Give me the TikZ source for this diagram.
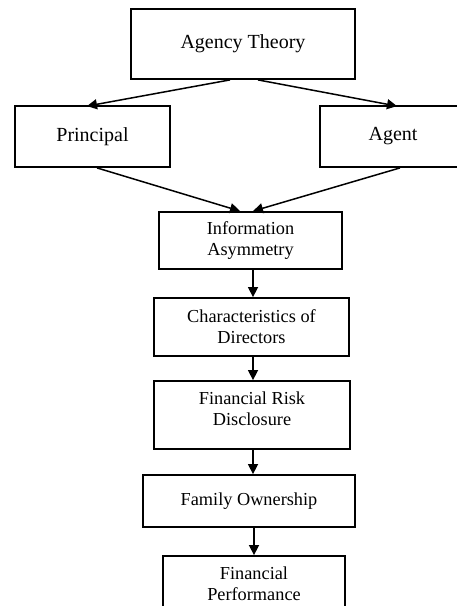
\documentclass[tikz,border=0pt]{standalone}
\usepackage{fontspec}
\setmainfont{Liberation Serif}
\usetikzlibrary{arrows.meta,calc}
\begin{document}
\begin{tikzpicture}[x=1pt,y=-1pt,
  box/.style={draw=black,line width=1.8pt,rectangle,inner sep=0pt,align=center,
    font=\fontsize{18.3}{21}\selectfont},
  bigbox/.style={box,font=\fontsize{20}{23}\selectfont},
  arr/.style={line width=1.5pt,-{Triangle[length=10pt,width=10pt]}}]
\useasboundingbox (0,0) rectangle (457,606);
\node[bigbox,minimum width=224pt,minimum height=70pt] (agency) at (243,44) {Agency Theory};
\node[bigbox,minimum width=155pt,minimum height=61pt] (principal) at (92.5,136.5) {Principal};
\node[bigbox,minimum width=146pt,minimum height=61pt] (agent) at (393,136.5) {Agent};
\node[box,minimum width=183pt,minimum height=57pt] (info) at (250.5,240.5) {Information\\Asymmetry};
\node[box,minimum width=195pt,minimum height=58pt] (char) at (251.5,327) {Characteristics of\\Directors};
\node[box,minimum width=196pt,minimum height=68pt] (risk) at (252,415)
  {\raisebox{-0.5pt}[0pt][0pt]{\begin{tabular}{@{}c@{}}Financial Risk\\Disclosure\end{tabular}}};
\node[box,minimum width=212pt,minimum height=52pt] (family) at (249,501)
  {\raisebox{2pt}{Family Ownership}};
\node[box,minimum width=182pt,minimum height=56pt] (perf) at (254,584) {Financial\\Performance};
\draw[arr] ([xshift=-13pt]agency.south) -- ([xshift=-5.5pt,yshift=-1pt]principal.north);
\draw[arr] ([xshift=15pt]agency.south) -- ([xshift=4pt,yshift=-1pt]agent.north);
\draw[arr] ([xshift=4.5pt]principal.south) -- ([xshift=-10.5pt]info.north);
\draw[arr] ([xshift=7pt]agent.south) -- ([xshift=2.5pt]info.north);
\draw[arr] ([xshift=2.5pt]info.south) -- ([xshift=1.5pt]char.north);
\draw[arr] ([xshift=1.5pt]char.south) -- ([xshift=1pt]risk.north);
\draw[arr] ([xshift=1pt]risk.south) -- ([xshift=4pt]family.north);
\draw[arr] ([xshift=5pt]family.south) -- (perf.north);
\end{tikzpicture}
\end{document}
